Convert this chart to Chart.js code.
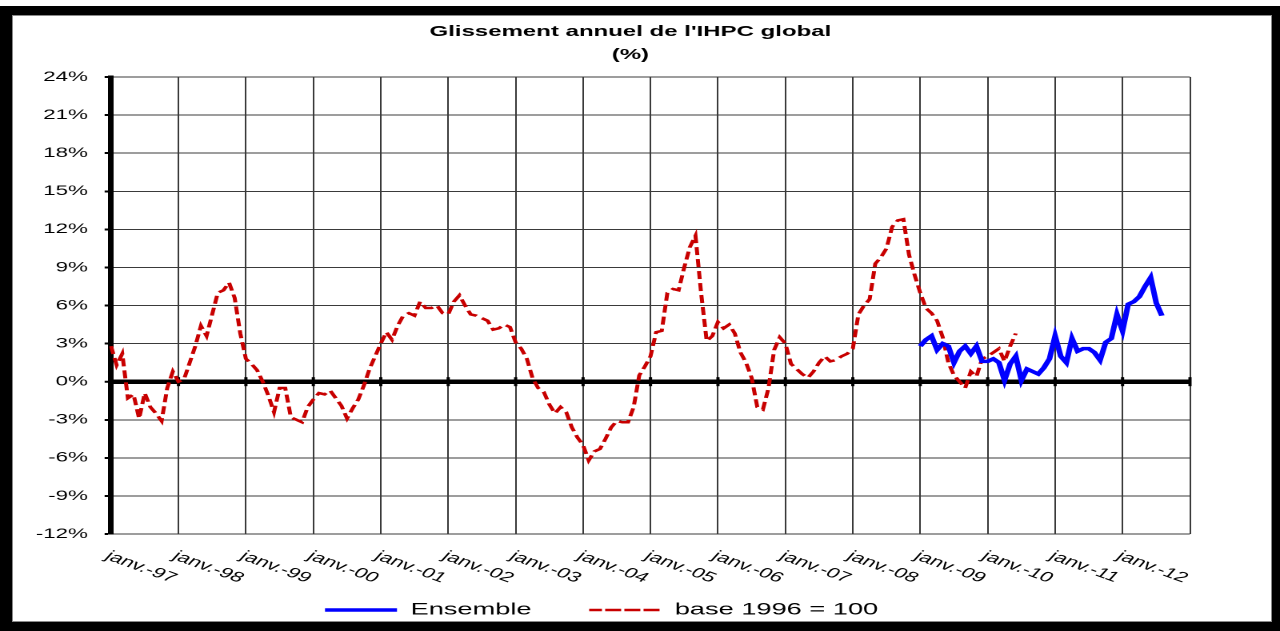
<!DOCTYPE html>
<html>
<head>
<meta charset="utf-8">
<title>Glissement annuel de l'IHPC global</title>
<script src="https://cdn.jsdelivr.net/npm/chart.js@4.4.1/dist/chart.umd.min.js"></script>
<style>
  html, body { margin: 0; padding: 0; background: #fff; }
  #frame { position: absolute; left: 0; top: 6px; width: 1280px; height: 625px; background: #000; }
  #sheet { position: absolute; left: 12px; top: 15px; width: 1260px; height: 607px; background: #fff; border: 1px solid #8a8a8a; box-sizing: border-box; }
  /* le graphique d'origine faisait 800 px de large, puis a été étiré */
  #wrap { position: absolute; left: 0; top: 0; width: 800px; height: 631px; transform: scaleX(1.6); transform-origin: 0 0; }
</style>
</head>
<body>
<div id="frame"></div>
<div id="sheet"></div>
<div id="wrap"><canvas id="chart" width="800" height="631"></canvas></div>
<script>
// titre
const titleLines = ["Glissement annuel de l'IHPC global", '(%)'];

// étiquettes de l'axe des abscisses (une par année)
const yearTicks = ['janv.-97', 'janv.-98', 'janv.-99', 'janv.-00', 'janv.-01', 'janv.-02', 'janv.-03', 'janv.-04',
  'janv.-05', 'janv.-06', 'janv.-07', 'janv.-08', 'janv.-09', 'janv.-10', 'janv.-11', 'janv.-12'];
const monthNames = ['janv.', 'févr.', 'mars', 'avr.', 'mai', 'juin', 'juil.', 'août', 'sept.', 'oct.', 'nov.', 'déc.'];
const years = [1997, 1998, 1999, 2000, 2001, 2002, 2003, 2004, 2005, 2006, 2007, 2008, 2009, 2010, 2011, 2012];

// base 1996 = 100, janv. 1997 -> juin 2010 (%)
const base1996 = [
  2.8, 1.3, 2.2, -1.3, -1.0, -2.9, -0.9, -2.0, -2.5, -3.1, -0.5, 0.8,     // 1997
  0.0, 0.2, 1.5, 2.8, 4.4, 3.6, 5.3, 7.0, 7.2, 7.8, 6.6, 3.8,             // 1998
  1.8, 1.4, 0.9, 0.0, -1.1, -2.4, -0.5, -0.5, -2.8, -3.0, -3.2, -2.0,     // 1999
  -1.4, -0.9, -1.0, -0.7, -1.3, -1.9, -2.9, -2.1, -1.4, -0.3, 1.0, 2.0,   // 2000
  3.0, 3.9, 3.3, 4.4, 5.2, 5.4, 5.2, 6.3, 5.8, 5.8, 6.0, 5.4,             // 2001
  5.3, 6.3, 6.8, 6.0, 5.3, 5.2, 5.0, 4.8, 4.1, 4.2, 4.5, 4.3,             // 2002
  3.1, 2.6, 1.8, 0.3, -0.5, -0.8, -1.8, -2.5, -2.0, -2.4, -3.6, -4.4,     // 2003
  -5.0, -6.2, -5.5, -5.3, -4.5, -3.6, -3.1, -3.2, -3.2, -2.0, 0.5, 1.2,   // 2004
  2.0, 3.9, 4.0, 7.0, 7.3, 7.2, 9.0, 10.6, 11.5, 7.0, 3.2, 3.6,           // 2005
  4.7, 4.2, 4.5, 3.8, 2.3, 1.5, 0.3, -2.0, -2.2, -0.5, 2.5, 3.5,          // 2006
  3.0, 1.4, 1.0, 0.6, 0.3, 0.8, 1.5, 2.0, 1.6, 1.7, 2.0, 2.2,             // 2007
  2.6, 5.3, 6.0, 6.5, 9.3, 9.8, 10.5, 12.2, 12.7, 12.8, 10.0, 8.4,        // 2008
  7.0, 5.8, 5.4, 4.8, 3.5, 1.5, 0.5, 0.0, -0.5, 0.8, 0.4, 1.8,            // 2009
  2.0, 2.3, 2.6, 1.6, 2.8, 3.8                                            // 2010
];

// Ensemble, janv. 2009 -> août 2012 (%)
const ensembleStart = 'janv.-09';
const ensemble = [
  2.8, 3.3, 3.6, 2.5, 3.0, 2.8, 1.5, 2.4, 2.8, 2.2, 2.8, 1.6,             // 2009
  1.6, 1.8, 1.5, 0.1, 1.4, 2.0, 0.1, 1.0, 0.8, 0.6, 1.1, 1.8,             // 2010
  3.6, 2.0, 1.5, 3.4, 2.4, 2.6, 2.6, 2.3, 1.7, 3.1, 3.4, 5.3,             // 2011
  4.0, 6.1, 6.3, 6.7, 7.5, 8.2, 6.2, 5.2                                  // 2012
];

// catégories mensuelles, plus janv.-13 pour fermer l'axe
const categories = [];
years.forEach(y => monthNames.forEach(m => categories.push(m + '-' + String(y).slice(2))));
categories.push('janv.-13');

const baseData = categories.map((c, i) => (i < base1996.length ? base1996[i] : null));
const offset = categories.indexOf(ensembleStart);
const ensembleData = categories.map((c, i) => {
  const k = i - offset;
  return k >= 0 && k < ensemble.length ? ensemble[k] : null;
});

const FONT = '"Liberation Sans", Arial, sans-serif';
Chart.defaults.font.family = FONT;
Chart.defaults.color = '#000';

// titre, étiquettes inclinées et petites graduations sur l'axe 0
const decor = {
  id: 'decor',
  beforeDatasetsDraw(chart) {
    const { ctx, scales: { x, y } } = chart;
    const y0 = y.getPixelForValue(0);
    ctx.save();
    ctx.fillStyle = '#000';
    for (let i = 0; i < categories.length; i += 12) {
      ctx.fillRect(x.getPixelForValue(i) - 1, y0 - 4.5, 2, 9);
    }
    ctx.restore();
  },
  afterDraw(chart) {
    const { ctx, chartArea, scales: { x } } = chart;
    ctx.save();
    ctx.fillStyle = '#000';
    ctx.textAlign = 'center';
    ctx.textBaseline = 'middle';
    ctx.font = 'bold 15px ' + FONT;
    ctx.fillText(titleLines[0], 394, 32);
    ctx.fillText(titleLines[1], 394, 55);

    ctx.font = '14px ' + FONT;
    ctx.textAlign = 'left';
    ctx.textBaseline = 'top';
    yearTicks.forEach((label, k) => {
      const px = x.getPixelForValue(categories.indexOf(label));
      ctx.save();
      ctx.translate(px + 1, chartArea.bottom + 15);
      ctx.rotate(Math.PI / 6);
      ctx.fillText(label, 0, 0);
      ctx.restore();
    });
    ctx.restore();
  }
};

new Chart(document.getElementById('chart'), {
  type: 'line',
  data: {
    labels: categories,
    datasets: [
      {
        label: 'Ensemble',
        data: ensembleData,
        borderColor: '#0000ff',
        backgroundColor: '#0000ff',
        borderWidth: 3.5,
        pointRadius: 0,
        tension: 0
      },
      {
        label: 'base 1996 = 100',
        data: baseData,
        borderColor: '#c80000',
        backgroundColor: '#c80000',
        borderWidth: 2.5,
        borderDash: [8, 4],
        pointRadius: 0,
        tension: 0
      }
    ]
  },
  options: {
    responsive: false,
    animation: false,
    devicePixelRatio: 2,
    events: [],
    layout: { padding: { left: 8.25, right: 56.25, top: 77, bottom: 2.5 } },
    plugins: {
      title: { display: false },
      tooltip: { enabled: false },
      legend: {
        position: 'bottom',
        labels: { boxWidth: 45, boxHeight: 0, padding: 36, color: '#000', font: { size: 17 } }
      }
    },
    scales: {
      x: {
        type: 'category',
        offset: false,
        ticks: { display: false, autoSkip: false },
        grid: {
          color: ctx => (ctx.index % 12 === 0 ? '#3a3a3a' : 'rgba(0,0,0,0)'),
          lineWidth: 1,
          drawTicks: false
        },
        border: { display: false },
        afterFit: s => { s.height = 31.5; }
      },
      y: {
        min: -12,
        max: 24,
        ticks: { stepSize: 3, callback: v => v + '%', color: '#000', font: { size: 14 }, padding: 10.4 },
        grid: {
          color: ctx => (ctx.tick && ctx.tick.value === 0 ? '#000' : '#3a3a3a'),
          lineWidth: ctx => (ctx.tick && ctx.tick.value === 0 ? 4.5 : 1),
          tickLength: 4,
          tickColor: '#000',
          tickWidth: 2
        },
        border: { color: '#000', width: 3.5 },
        afterFit: s => { s.width = 61.15; }
      }
    }
  },
  plugins: [decor]
});
</script>
</body>
</html>
